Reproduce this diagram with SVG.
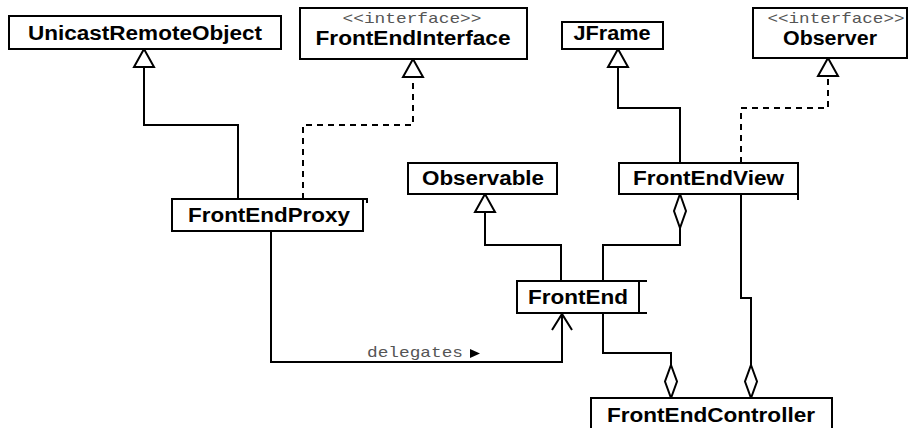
<svg xmlns="http://www.w3.org/2000/svg" width="910" height="428" viewBox="0 0 910 428">
  <style>
    .box { fill: #fff; stroke: #000; stroke-width: 2; }
    .name { font-family: "Liberation Sans", Arial, sans-serif; font-weight: bold; font-size: 20px; fill: #000; text-anchor: middle; }
    .stereo { font-family: "Liberation Mono", "Courier New", monospace; font-size: 15px; fill: #555; text-anchor: middle; }
    .edge { fill: none; stroke: #000; stroke-width: 2; }
    .dash { stroke-dasharray: 6 5; }
    .tri { fill: #fff; stroke: #000; stroke-width: 2; }
    .tick { fill: none; stroke: #000; stroke-width: 2; }
    .label { font-family: "Liberation Mono", "Courier New", monospace; font-size: 15px; fill: #555; }
  </style>

  <!-- connectors -->
  <g id="connectors">
    <!-- FrontEndProxy extends UnicastRemoteObject -->
    <polyline class="edge" points="238,199 238,125 144,125 144,67"/>
    <polygon class="tri" points="144,49 134,67 154,67"/>
    <!-- FrontEndProxy implements FrontEndInterface -->
    <polyline class="edge dash" points="303,199 303,125 413,125 413,77"/>
    <polygon class="tri" points="413,59 403,77 423,77"/>
    <!-- FrontEndView extends JFrame -->
    <polyline class="edge" points="680,163 680,108 618,108 618,67"/>
    <polygon class="tri" points="618,49 608,67 628,67"/>
    <!-- FrontEndView implements Observer -->
    <polyline class="edge dash" points="741,163 741,108 828,108 828,76"/>
    <polygon class="tri" points="828,58 818,76 838,76"/>
    <!-- FrontEnd extends Observable -->
    <polyline class="edge" points="561,281 561,245 485,245 485,212"/>
    <polygon class="tri" points="485,194 475,212 495,212"/>
    <!-- FrontEndView aggregates FrontEnd -->
    <polyline class="edge" points="603,281 603,245 680,245 680,228"/>
    <polygon class="tri" points="680,194 686,211 680,228 674,211"/>
    <!-- FrontEndProxy delegates to FrontEnd -->
    <polyline class="edge" points="271,231 271,362 562,362 562,314"/>
    <polyline class="edge" points="552,330 562,314 572,330"/>
    <text class="label" x="367" y="357" textLength="96" lengthAdjust="spacingAndGlyphs">delegates</text>
    <polygon points="470,349 480,353.5 470,358" fill="#000"/>
    <!-- FrontEndController aggregates FrontEnd -->
    <polyline class="edge" points="603,313 603,353 671,353 671,365"/>
    <polygon class="tri" points="671,365 677,381.5 671,398 665,381.5"/>
    <!-- FrontEndController aggregates FrontEndView -->
    <polyline class="edge" points="741,194 741,298 751,298 751,365"/>
    <polygon class="tri" points="751,365 757,381.5 751,398 745,381.5"/>
  </g>

  <g id="UnicastRemoteObject">
    <rect class="box" x="9" y="16" width="272" height="33"/>
    <text class="name" x="145" y="40" textLength="234" lengthAdjust="spacingAndGlyphs">UnicastRemoteObject</text>
  </g>

  <g id="FrontEndInterface">
    <rect class="box" x="300" y="8" width="227" height="51"/>
    <text class="stereo" x="412" y="23" textLength="139" lengthAdjust="spacingAndGlyphs">&lt;&lt;interface&gt;&gt;</text>
    <text class="name" x="413" y="45" textLength="195" lengthAdjust="spacingAndGlyphs">FrontEndInterface</text>
  </g>

  <g id="JFrame">
    <rect class="box" x="562" y="22" width="101" height="27"/>
    <text class="name" x="612" y="40" textLength="77" lengthAdjust="spacingAndGlyphs">JFrame</text>
  </g>

  <g id="Observer">
    <rect class="box" x="753" y="8" width="154" height="50"/>
    <text class="stereo" x="836" y="23" textLength="137" lengthAdjust="spacingAndGlyphs">&lt;&lt;interface&gt;&gt;</text>
    <text class="name" x="830" y="45" textLength="94" lengthAdjust="spacingAndGlyphs">Observer</text>
  </g>

  <g id="Observable">
    <rect class="box" x="408" y="163" width="149" height="31"/>
    <text class="name" x="483" y="185" textLength="122" lengthAdjust="spacingAndGlyphs">Observable</text>
  </g>

  <g id="FrontEndView">
    <rect class="box" x="619" y="163" width="179" height="31"/>
    <text class="name" x="708.5" y="185" textLength="151" lengthAdjust="spacingAndGlyphs">FrontEndView</text>
    <polyline class="tick" points="798,194 798,200"/>
  </g>

  <g id="FrontEndProxy">
    <rect class="box" x="172" y="199" width="191" height="32"/>
    <text class="name" x="269" y="222" textLength="162" lengthAdjust="spacingAndGlyphs">FrontEndProxy</text>
    <polyline class="tick" points="363,199 367,199 367,203"/>
  </g>

  <g id="FrontEnd">
    <rect class="box" x="517" y="281" width="122" height="32"/>
    <text class="name" x="578" y="304" textLength="100" lengthAdjust="spacingAndGlyphs">FrontEnd</text>
    <polyline class="tick" points="639,281 647,281"/>
    <polyline class="tick" points="639,313 647,313"/>
  </g>

  <g id="FrontEndController">
    <rect class="box" x="591" y="398" width="241" height="33"/>
    <text class="name" x="711" y="422" textLength="208" lengthAdjust="spacingAndGlyphs">FrontEndController</text>
  </g>
</svg>
